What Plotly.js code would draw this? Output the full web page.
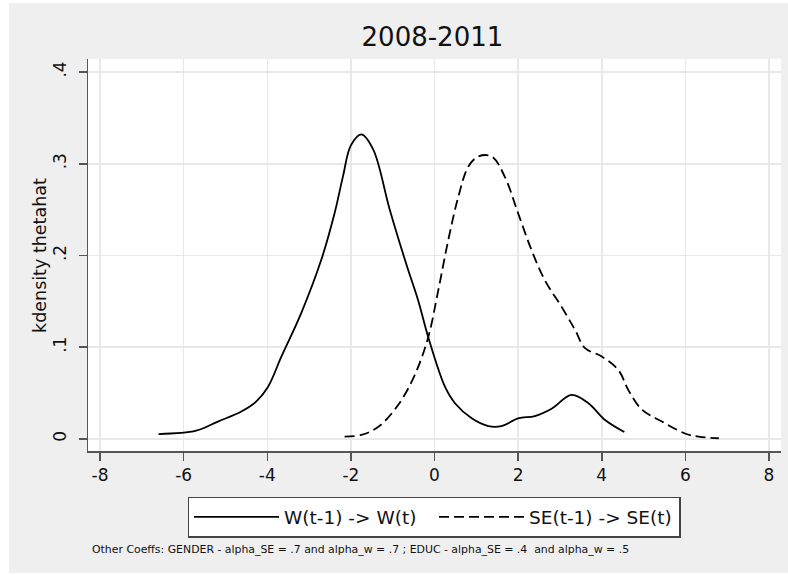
<!DOCTYPE html>
<html>
<head>
<meta charset="utf-8">
<script src="https://cdn.plot.ly/plotly-3.0.1.min.js"></script>
<style>
html,body{margin:0;padding:0;background:#ffffff;}
#chart{position:absolute;left:9px;top:3px;width:779px;height:570px;}
</style>
</head>
<body>
<div id="chart"></div>
<script>
// W(t-1) -> W(t)
const wX = [-6.60,-5.70,-5.18,-4.62,-4.26,-3.98,-3.66,-3.19,-2.71,-2.39,-2.19,-2.00,-1.75,-1.47,-1.07,-0.67,-0.39,-0.15,0.25,0.49,0.89,1.29,1.60,2.00,2.40,2.80,3.28,3.68,4.08,4.54];
const wY = [0.0054,0.009,0.019,0.030,0.041,0.057,0.090,0.137,0.195,0.246,0.286,0.320,0.332,0.316,0.250,0.190,0.151,0.111,0.057,0.039,0.0225,0.014,0.014,0.0225,0.025,0.033,0.048,0.039,0.0207,0.0076];
// SE(t-1) -> SE(t)
const seX = [-2.15,-1.75,-1.35,-0.87,-0.47,-0.15,0.09,0.33,0.57,0.81,1.05,1.37,1.68,2.00,2.32,2.64,3.04,3.36,3.60,4.00,4.40,4.64,4.96,5.44,5.99,6.32,6.80];
const seY = [0.0025,0.0044,0.013,0.037,0.070,0.111,0.162,0.217,0.264,0.297,0.308,0.308,0.286,0.246,0.206,0.173,0.144,0.119,0.099,0.090,0.075,0.053,0.032,0.019,0.006,0.0025,0.0008];

const xTicks = [-8,-6,-4,-2,0,2,4,6,8];
const xTickText = ["-8","-6","-4","-2","0","2","4","6","8"];
const yTicks = [0,0.1,0.2,0.3,0.4];
const yTickText = ["0",".1",".2",".3",".4"];

const seriesNames = ["W(t-1) -> W(t)", "SE(t-1) -> SE(t)"];
const titleText = "2008-2011";
const yTitle = "kdensity thetahat";
const noteText = "Other Coeffs: GENDER - alpha_SE = .7 and alpha_w = .7 ; EDUC - alpha_SE = .4&nbsp; and alpha_w = .5";

const FONT = "DejaVu Sans, sans-serif";

const traces = [
  {x: wX, y: wY, name: seriesNames[0], type: "scatter", mode: "lines",
   line: {color: "#000000", width: 1.8, shape: "spline", smoothing: 1}},
  {x: seX, y: seY, name: seriesNames[1], type: "scatter", mode: "lines",
   line: {color: "#000000", width: 1.8, dash: "10px,5px", shape: "spline", smoothing: 1}}
];

const layout = {
  width: 779, height: 570,
  paper_bgcolor: "#efefef",
  plot_bgcolor: "#ffffff",
  margin: {l: 79, r: 7, t: 56, b: 122, pad: 0},
  font: {family: FONT, color: "#111111", size: 17},
  title: {text: titleText, font: {family: FONT, size: 26, color: "#111111"},
          x: 0.497, xanchor: "center", y: 0.94, yanchor: "middle", xref: "paper"},
  xaxis: {
    range: [-8.287, 8.287], tickvals: xTicks, ticktext: xTickText,
    showgrid: true, gridcolor: "#e8e8e8", gridwidth: 1.5, zeroline: false,
    showline: true, linecolor: "#555555", linewidth: 1.5,
    ticks: "outside", ticklen: 8, tickwidth: 1.5, tickcolor: "#555555",
    tickfont: {family: FONT, size: 17, color: "#111111"}, fixedrange: true
  },
  yaxis: {
    range: [-0.0131, 0.4142], tickvals: yTicks, ticktext: yTickText, tickangle: -90,
    showgrid: true, gridcolor: "#e8e8e8", gridwidth: 1.5, zeroline: false,
    showline: true, linecolor: "#555555", linewidth: 1.5,
    ticks: "outside", ticklen: 8, tickwidth: 1.5, tickcolor: "#555555",
    ticklabelstandoff: 6,
    tickfont: {family: FONT, size: 17, color: "#111111"},
    fixedrange: true
  },
  showlegend: true,
  legend: {
    orientation: "h", x: 0.4993, xanchor: "center", y: -0.117, yanchor: "top",
    bgcolor: "#ffffff", bordercolor: "#444444", borderwidth: 1.5,
    font: {family: FONT, size: 18.5, color: "#111111"},
    itemwidth: 85, entrywidth: 145, tracegroupgap: 0
  },
  annotations: [
    {text: yTitle, xref: "paper", yref: "paper", x: -0.0693, y: 0.5,
     xanchor: "center", yanchor: "middle", textangle: -90, showarrow: false,
     font: {family: FONT, size: 17.5, color: "#111111"}},
    {text: noteText, xref: "paper", yref: "paper", x: 0.003, y: -0.25,
     xanchor: "left", yanchor: "middle", showarrow: false,
     font: {family: FONT, size: 10.9, color: "#111111"}}
  ]
};

Plotly.newPlot("chart", traces, layout, {displayModeBar: false, staticPlot: true});
</script>
</body>
</html>
